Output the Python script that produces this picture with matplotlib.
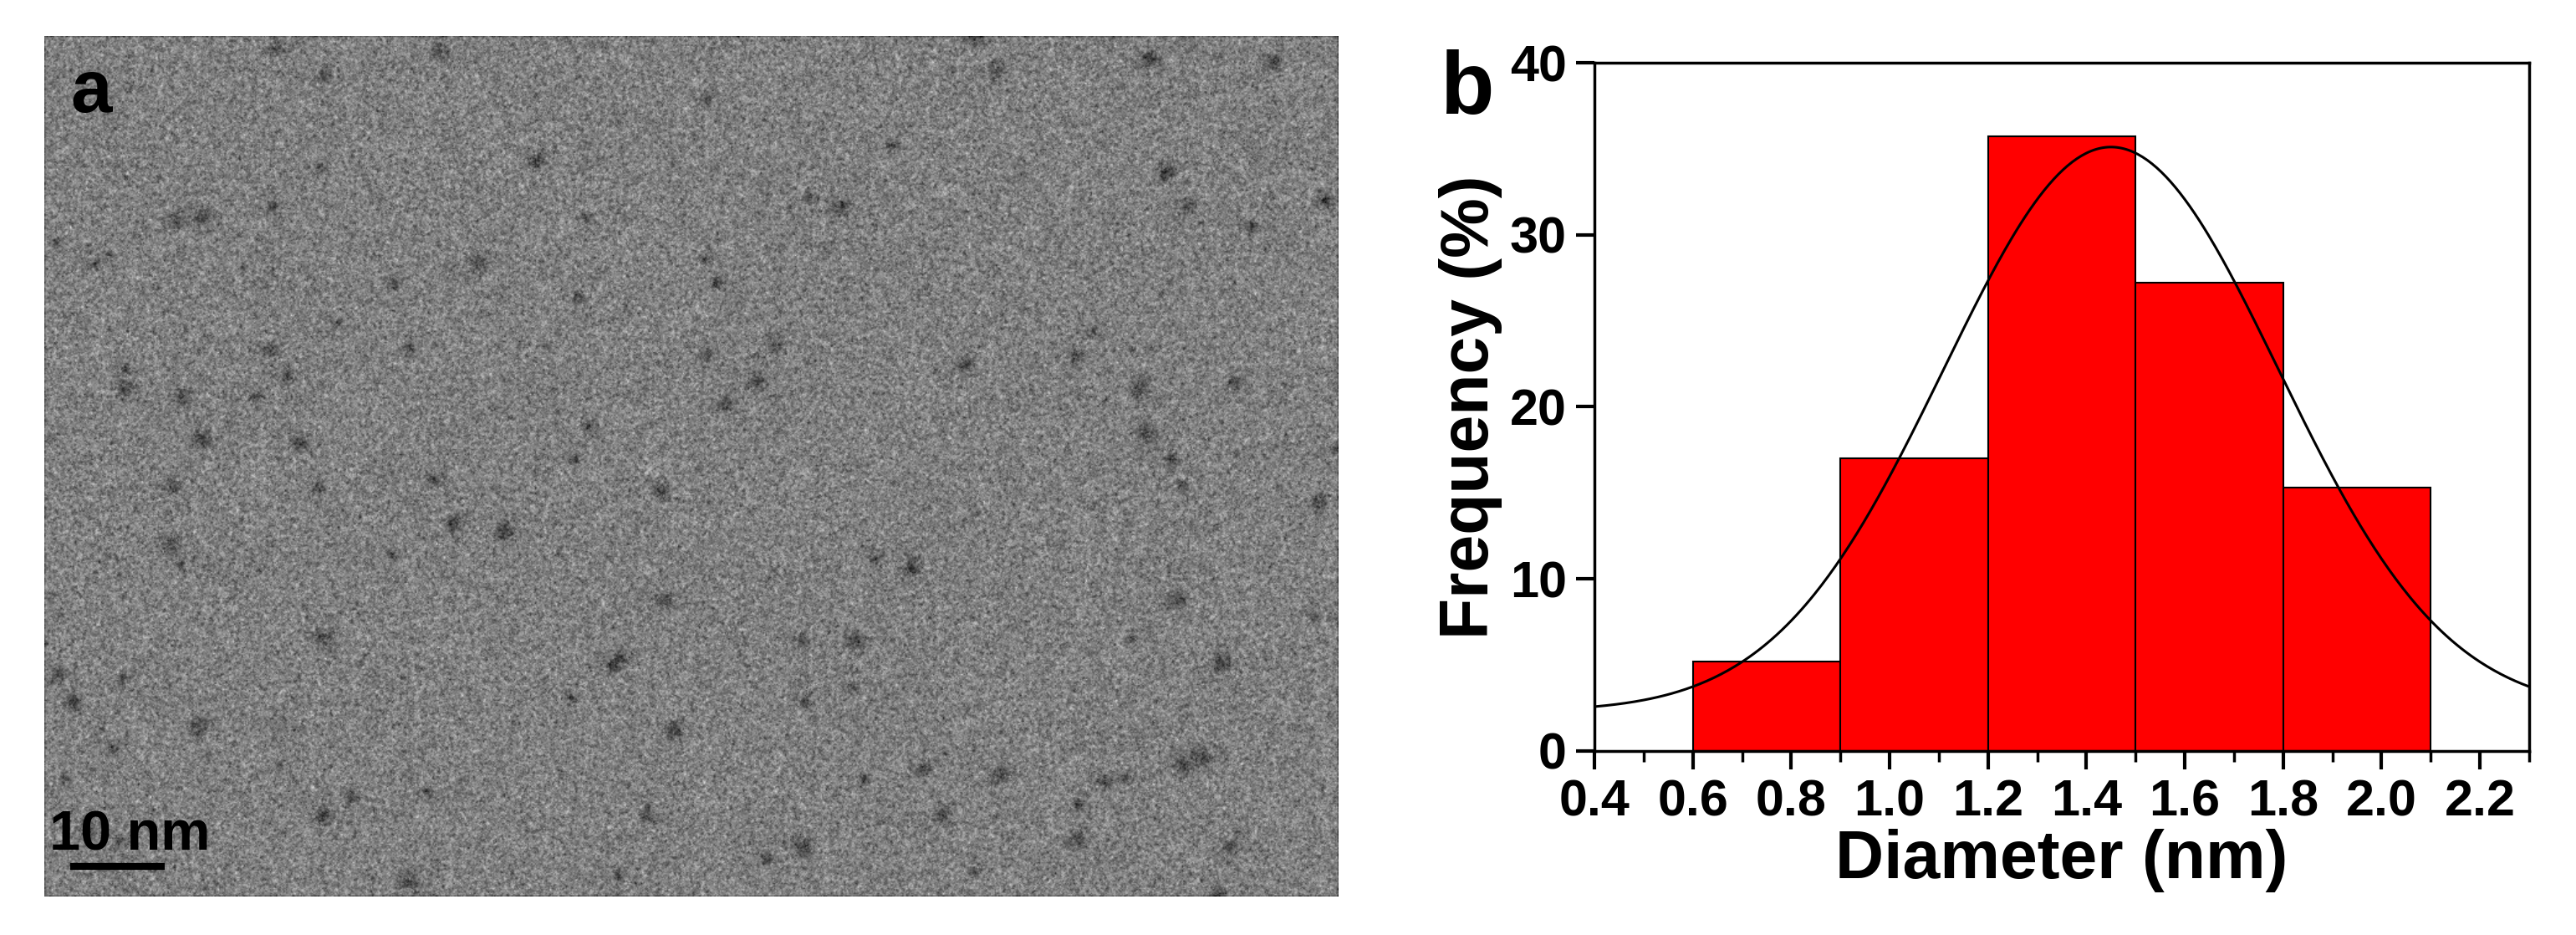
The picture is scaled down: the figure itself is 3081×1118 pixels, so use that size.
import numpy as np
import matplotlib.pyplot as plt
from matplotlib.ticker import MultipleLocator

plt.rcParams['font.family'] = ['Liberation Sans', 'DejaVu Sans']
plt.rcParams['font.weight'] = 'bold'

# histogram data
bin_edges = [0.6, 0.9, 1.2, 1.5, 1.8, 2.1]
freq = [5.2, 17.0, 35.7, 27.2, 15.3]

# gaussian fit parameters
y0, amp, xc, sigma = 2.3, 32.8, 1.45, 0.34

fig = plt.figure(figsize=(30.81, 11.18), dpi=100)

# panel a: micrograph texture
ax1 = fig.add_axes([53/3081, 1 - 1072/1118, (1601-53)/3081, (1072-43)/1118])
rng = np.random.default_rng(3)
h, w = 700, 1050
img = rng.normal(0.5, 0.14, (h, w))
k = np.array([0.25, 0.5, 0.25])
img = np.apply_along_axis(lambda r: np.convolve(r, k, mode='same'), 1, img)
img = np.apply_along_axis(lambda c: np.convolve(c, k, mode='same'), 0, img)
img += rng.normal(0, 0.06, (h, w))
yy, xx = np.mgrid[0:h, 0:w]
for _ in range(110):
    cx, cy = rng.uniform(0, w), rng.uniform(0, h)
    r = rng.uniform(2.5, 5.5)
    img -= 0.2 * np.exp(-((xx-cx)**2 + (yy-cy)**2) / (2*r*r))
ax1.imshow(img, cmap='gray', vmin=0.05, vmax=0.95, aspect='auto', interpolation='bilinear')
ax1.set_xticks([]); ax1.set_yticks([])
for s in ax1.spines.values():
    s.set_visible(False)
ax1.text(0.02, 0.975, 'a', transform=ax1.transAxes, fontsize=64, fontweight='bold',
         va='top', ha='left', color='black')
ax1.text(0.004, 0.04, '10 nm', transform=ax1.transAxes, fontsize=48, fontweight='bold',
         va='bottom', ha='left', color='black')
ax1.plot([0.02, 0.093], [0.035, 0.035], transform=ax1.transAxes, color='black', lw=6,
         solid_capstyle='butt')

# panel b: histogram
ax2 = fig.add_axes([1907/3081, 1 - 898/1118, (3025-1907)/3081, (898-75)/1118])
widths = np.diff(bin_edges)
ax2.bar(bin_edges[:-1], freq, width=widths, align='edge', color='#ff0000',
        edgecolor='black', linewidth=1.5)
xs = np.linspace(0.4, 2.3, 400)
ax2.plot(xs, y0 + amp * np.exp(-(xs - xc)**2 / (2 * sigma**2)), color='black', lw=2.2)
ax2.set_xlim(0.4, 2.3)
ax2.set_ylim(0, 40)
ax2.xaxis.set_major_locator(MultipleLocator(0.2))
ax2.xaxis.set_minor_locator(MultipleLocator(0.1))
ax2.yaxis.set_major_locator(MultipleLocator(10))
ax2.tick_params(which='major', length=16, width=3, labelsize=44, direction='out', pad=8)
ax2.tick_params(which='minor', length=9, width=2.5, direction='out')
ax2.set_xticklabels([f'{v:.1f}' for v in ax2.get_xticks()])
for s in ax2.spines.values():
    s.set_linewidth(2.5)
ax2.set_xlabel('Diameter (nm)', fontsize=58, fontweight='bold', labelpad=2)
ax2.set_ylabel('Frequency (%)', fontsize=58, fontweight='bold', labelpad=6)
ax2.text(-0.165, 1.02, 'b', transform=ax2.transAxes, fontsize=76, fontweight='bold',
         va='top', ha='left')

fig.savefig('out.png', dpi=100)
